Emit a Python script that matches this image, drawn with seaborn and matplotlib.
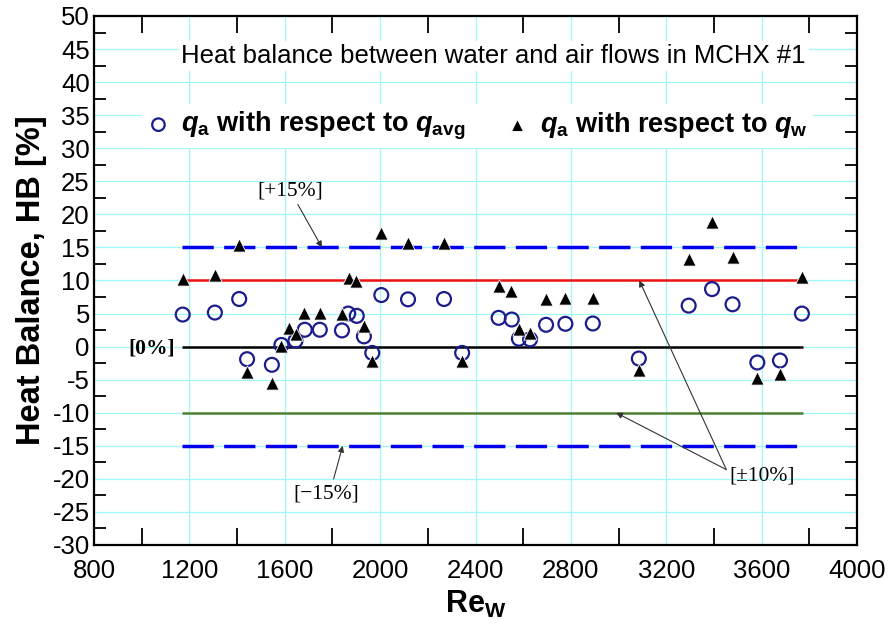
import numpy as np
import matplotlib
matplotlib.use("Agg")
import matplotlib.pyplot as plt
import seaborn as sns

# Re_w and heat balance [%] : q_a with respect to q_avg (open circles)
re_avg = [1172, 1307, 1409, 1442, 1546, 1586, 1645, 1684, 1747, 1840, 1866, 1902,
          1932, 1967, 2005, 2117, 2268, 2344, 2497, 2552, 2582, 2629, 2696, 2777,
          2892, 3085, 3294, 3392, 3478, 3582, 3677, 3769]
hb_avg = [4.85, 5.15, 7.2, -1.9, -2.75, 0.25, 0.9, 2.55, 2.55, 2.45, 5.0, 4.65,
          1.55, -0.95, 7.8, 7.15, 7.2, -0.95, 4.35, 4.1, 1.2, 1.1, 3.3, 3.45,
          3.5, -1.8, 6.2, 8.7, 6.4, -2.4, -2.1, 5.0]

# q_a with respect to q_w (filled triangles)
re_w = [1172, 1307, 1409, 1442, 1546, 1586, 1617, 1646, 1681, 1748, 1840, 1868,
        1900, 1931, 1967, 2005, 2117, 2268, 2344, 2497, 2550, 2582, 2629, 2696,
        2777, 2892, 3085, 3294, 3392, 3481, 3582, 3677, 3769]
hb_w = [10.25, 10.8, 15.4, -3.8, -5.45, 0.15, 2.8, 1.85, 5.15, 5.15, 5.0, 10.45,
        9.85, 3.15, -2.1, 17.25, 15.6, 15.6, -2.1, 9.1, 8.4, 2.7, 2.1, 7.15,
        7.3, 7.4, -3.5, 13.2, 18.9, 13.5, -4.7, -4.2, 10.6]

x_ticks = np.arange(800, 4001, 400)
y_ticks = np.arange(-30, 51, 5)
line_start, line_end = 1170, 3775

sns.set_style("white")
plt.rcParams['font.family'] = ['Liberation Sans', 'DejaVu Sans']
plt.rcParams['mathtext.fontset'] = 'custom'
plt.rcParams['mathtext.rm'] = 'Liberation Sans:bold'
plt.rcParams['mathtext.bf'] = 'Liberation Sans:bold'
plt.rcParams['mathtext.it'] = 'Liberation Sans:italic:bold'
plt.rcParams['axes.unicode_minus'] = False
for k in ['text.color', 'axes.labelcolor', 'xtick.color', 'ytick.color']:
    plt.rcParams[k] = 'black'

fig = plt.figure(figsize=(8.88, 6.38), dpi=100)
ax = fig.add_axes([94/888, 1-545/638, (857-94)/888, (545-16)/638])

# reference lines
ax.hlines([15, -15], line_start, line_end, colors='#0000ee', lw=2.5,
          linestyles=(0, (9, 3)), zorder=2)
ax.hlines(10, line_start, line_end, colors='#ee1111', lw=1.8, zorder=2)
ax.hlines(-10, line_start, line_end, colors='#4e8030', lw=1.8, zorder=2)
ax.hlines(0, line_start, line_end, colors='black', lw=1.8, zorder=2)

sns.scatterplot(x=re_avg, y=hb_avg, ax=ax, marker='o', s=100,
                facecolor='none', edgecolor='#1c1c8c', linewidth=1.6,
                label=r'$q_{\mathrm{a}}$ with respect to $q_{\mathrm{avg}}$', zorder=3)
sns.scatterplot(x=re_w, y=hb_w, ax=ax, marker='^', s=90,
                color='black', edgecolor='white', linewidth=0.6,
                label=r'$q_{\mathrm{a}}$ with respect to $q_{\mathrm{w}}$', zorder=4)

ax.set_xlim(800, 4000)
ax.set_ylim(-30, 50)
ax.set_xticks(x_ticks)
ax.set_yticks(y_ticks)
ax.set_xticks(x_ticks[:-1] + 200, minor=True)
ax.set_yticks(y_ticks[:-1] + 2.5, minor=True)
ax.tick_params(which='major', length=0, labelsize=18.5, pad=10)
ax.tick_params(axis='y', which='major', pad=3)
ax.tick_params(axis='x', which='minor', direction='in', length=12, width=1.3,
               top=True, bottom=True)
ax.tick_params(axis='y', which='minor', direction='in', length=8.5, width=1.3,
               left=True, right=True)
ax.grid(True, which='major', color='#9ff7f7', lw=0.9)
ax.set_axisbelow(True)
for sp in ax.spines.values():
    sp.set_linewidth(1.6)
    sp.set_color('black')

ax.set_xlabel(r'$\mathrm{Re}_{\mathrm{W}}$', fontsize=22, labelpad=4)
ax.set_ylabel('Heat Balance, HB [%]', fontsize=23.5, fontweight='bold', labelpad=4)

leg = ax.legend(ncol=2, loc='center', bbox_to_anchor=(0.503, 0.792),
                prop={'weight': 'bold', 'size': 19.5}, frameon=True,
                handlelength=0.8, handletextpad=0.45, columnspacing=1.5,
                borderpad=0.2, markerscale=0.9)
leg.get_frame().set_facecolor('white')
leg.get_frame().set_edgecolor('none')
leg.get_frame().set_alpha(1)

ax.text(2476, 44, 'Heat balance between water and air flows in MCHX #1',
        ha='center', va='center', fontsize=18.5,
        bbox=dict(facecolor='white', edgecolor='none', pad=2))

serif = ['Liberation Serif', 'DejaVu Serif']
arrow = dict(arrowstyle='-|>', color='#333333', lw=0.8, mutation_scale=9,
             shrinkA=0, shrinkB=0)
ax.text(1621, 23.5, '[+15%]', ha='center', va='center', fontsize=15.5, family=serif)
ax.annotate('', xy=(1756, 15), xytext=(1655, 21.5), arrowprops=arrow)
ax.text(1772, -22.3, '[\u221215%]', ha='center', va='center', fontsize=15.5, family=serif)
ax.annotate('', xy=(1843, -15), xytext=(1805, -20), arrowprops=arrow)
ax.text(1140, -0.3, '[0%]', ha='right', va='center', fontsize=15.5,
        fontweight='bold', family=serif)
ax.text(3465, -19.6, '[\u00b110%]', ha='left', va='center', fontsize=15.5, family=serif)
ax.annotate('', xy=(3087, 10), xytext=(3452, -18.6), arrowprops=arrow)
ax.annotate('', xy=(2990, -10), xytext=(3452, -18.6), arrowprops=arrow)

fig.savefig('out.png', dpi=100)
